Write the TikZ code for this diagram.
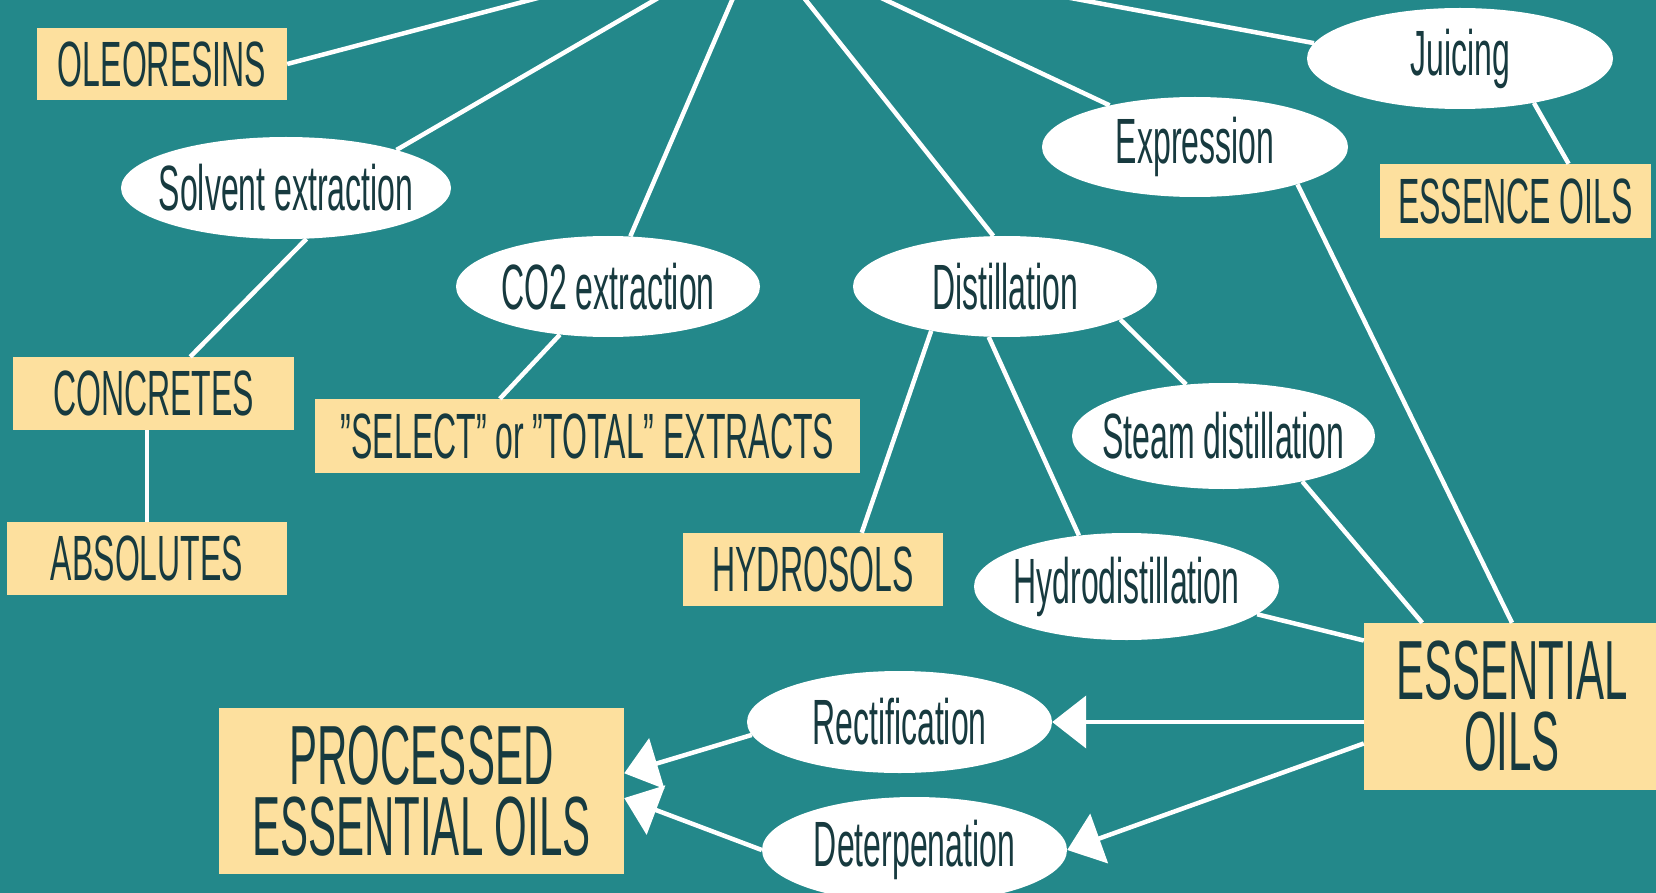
\documentclass[tikz,border=0pt]{standalone}
\usepackage{fontspec}
\setmainfont[FakeStretch=0.5]{Liberation Sans}
\usetikzlibrary{arrows.meta,calc,shapes.geometric}
\definecolor{bg}{HTML}{23888A}
\definecolor{boxc}{HTML}{FDE09E}
\definecolor{ink}{HTML}{173A3F}
\newcommand\mytxt[1]{\makebox[0pt][c]{#1}}
\begin{document}
\begin{tikzpicture}[x=1pt,y=-1pt,
  proc/.style={ellipse, fill=white, inner sep=0pt, text=ink, font=\fontsize{64}{64}\selectfont},
  prod/.style={rectangle, fill=boxc, inner sep=0pt, text=ink, align=center, font=\fontsize{64}{64}\selectfont},
  big/.style={prod, font=\fontsize{84}{71}\selectfont},
  link/.style={draw=white, line width=4.5pt},
  arr/.style={link, -{Triangle[length=34pt,width=52pt]}}
]
\useasboundingbox (0,0) rectangle (1656,893);
\clip (0,0) rectangle (1656,893);
\fill[bg] (0,0) rectangle (1656,893);
\coordinate (src) at (758,-60);

\node[prod, minimum width=250pt, minimum height=72pt] (ole) at (162,64) {OLEORESINS};
\node[proc, minimum width=330pt, minimum height=102pt] (solv) at (286,188) {\mytxt{Solvent extraction}};
\node[proc, minimum width=304pt, minimum height=101pt] (co2) at (608,286.5) {\mytxt{CO2 extraction}};
\node[proc, minimum width=304pt, minimum height=101pt] (dist) at (1005,286.5) {\mytxt{Distillation}};
\node[proc, minimum width=306pt, minimum height=100pt] (expr) at (1195,147) {\mytxt{Expression}};
\node[proc, minimum width=306pt, minimum height=101pt] (juic) at (1460,58.5) {\mytxt{Juicing}};
\node[prod, minimum width=271pt, minimum height=74pt] (ess) at (1515.5,201) {ESSENCE OILS};
\node[prod, minimum width=281pt, minimum height=73pt] (conc) at (153.5,393.5) {CONCRETES};
\node[prod, minimum width=280pt, minimum height=73pt] (abso) at (147,558.5) {ABSOLUTES};
\node[prod, minimum width=545pt, minimum height=74pt] (extr) at (587.5,436) {"SELECT" or "TOTAL" EXTRACTS};
\node[prod, minimum width=260pt, minimum height=73pt] (hydros) at (813,569.5) {HYDROSOLS};
\node[proc, minimum width=303pt, minimum height=106pt] (steam) at (1223.5,436) {\mytxt{Steam distillation}};
\node[proc, minimum width=305pt, minimum height=107pt] (hydro) at (1126.5,586.5) {\mytxt{Hydrodistillation}};
\node[big, minimum width=296pt, minimum height=167pt] (eo) at (1512,706.5) {ESSENTIAL\\OILS};
\node[big, minimum width=405pt, minimum height=166pt] (peo) at (421.5,791) {PROCESSED\\ESSENTIAL OILS};
\node[proc, minimum width=305pt, minimum height=102pt] (rect) at (899.5,722) {\mytxt{Rectification}};
\node[proc, minimum width=305pt, minimum height=106pt] (deter) at (914.5,850) {\mytxt{Deterpenation}};

\draw[link] (ole.east) -- (src);
\draw[link] (solv.19.5) -- (src);
\draw[link] (co2.66.5) -- (src);
\draw[link] (dist.103) -- (src);
\draw[link] (expr.154) -- (src);
\draw[link] (juic.174.5) -- (src);
\draw[link] (juic.-31.4) -- (ess.35.2);
\draw[link] (solv.-68) -- (conc.45);
\draw[link] (abso.north |- conc.south) -- (abso.north);
\draw[link] (co2.-135) -- (extr.157.5);
\draw[link] (dist.-149) -- (hydros.37.3);
\draw[link] (dist.-108.6) -- (hydro.133);
\draw[link] (dist.-16) -- (steam.126);
\draw[link] (steam.-30.2) -- (eo.137);
\draw[link] (expr.-20.4) -- (eo.north);
\draw[link] (hydro.-12.9) -- (eo.156.5);

\draw[arr] (rect -| eo.west) -- (rect.east);
\draw[arr] (eo.-166.3) -- (deter.east);
\draw[arr] (rect.185.9) -- (peo.5.6);
\draw[arr] (deter.west) -- (peo.-2.5);
\end{tikzpicture}
\end{document}
